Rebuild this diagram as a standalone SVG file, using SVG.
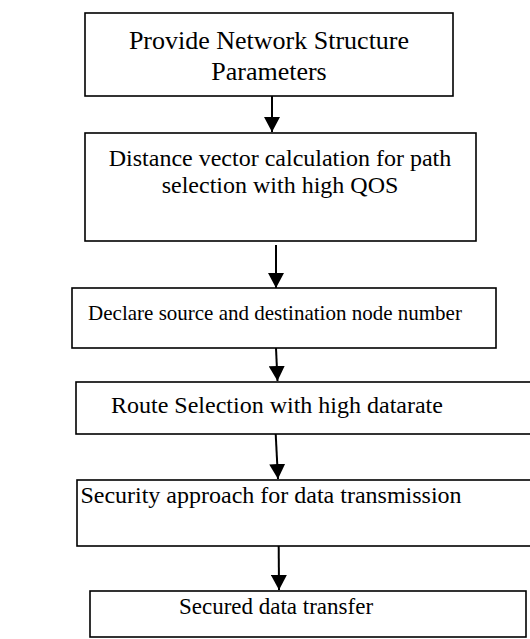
<svg xmlns="http://www.w3.org/2000/svg" width="530" height="639" viewBox="0 0 530 639">
<defs>
<style>
.box{fill:#fff;stroke:#000;stroke-width:1.6}
.t{font-family:"Liberation Serif","Times New Roman",serif;fill:#000;text-anchor:middle}
.c{stroke:#000;stroke-width:2;fill:none}
</style>
<marker id="ah" markerUnits="userSpaceOnUse" markerWidth="16" markerHeight="16" viewBox="0 0 16 16" refX="15" refY="8" orient="auto">
<path d="M0,0 L15,8 L0,16 Z" fill="#000"/>
</marker>
</defs>
<rect width="530" height="639" fill="#fff"/>
<g id="n1">
<rect class="box" x="85" y="13" width="368" height="83"/>
<text class="t" x="269" y="49" font-size="26">Provide Network Structure</text>
<text class="t" x="269" y="80" font-size="26">Parameters</text>
</g>
<g id="n2">
<rect class="box" x="85" y="133" width="391" height="108"/>
<text class="t" x="280" y="166" font-size="24">Distance vector calculation for path</text>
<text class="t" x="280" y="193" font-size="24">selection with high QOS</text>
</g>
<g id="n3">
<rect class="box" x="72" y="288" width="424" height="60"/>
<text class="t" x="275" y="320" font-size="21">Declare source and destination node number</text>
</g>
<g id="n4">
<rect class="box" x="76" y="382" width="456" height="52"/>
<text class="t" x="277" y="413" font-size="24">Route Selection with high datarate</text>
</g>
<g id="n5">
<rect class="box" x="77" y="480" width="455" height="66"/>
<text class="t" x="271" y="503" font-size="24">Security approach for data transmission</text>
</g>
<g id="n6">
<rect class="box" x="90" y="591" width="436" height="46"/>
<text class="t" x="276" y="614" font-size="23">Secured data transfer</text>
</g>
<g id="connectors">
<line class="c" x1="272" y1="96" x2="272" y2="132" marker-end="url(#ah)"/>
<line class="c" x1="276" y1="245" x2="276" y2="288" marker-end="url(#ah)"/>
<line class="c" x1="276" y1="348" x2="277.5" y2="381" marker-end="url(#ah)"/>
<line class="c" x1="275.7" y1="434" x2="278" y2="479" marker-end="url(#ah)"/>
<line class="c" x1="278.7" y1="546" x2="279" y2="590" marker-end="url(#ah)"/>
</g>
</svg>
